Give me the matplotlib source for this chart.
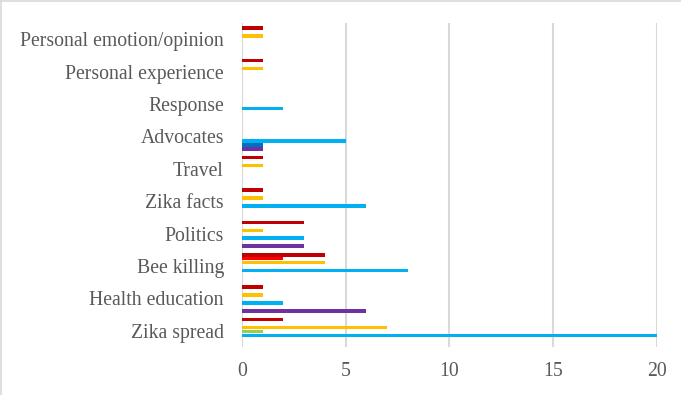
import matplotlib
matplotlib.use("Agg")
import matplotlib.pyplot as plt
import numpy as np

# categories bottom -> top (as drawn)
CATEGORIES = [
    "Zika spread", "Health education", "Bee killing", "Politics",
    "Zika facts", "Travel", "Advocates", "Response",
    "Personal experience", "Personal emotion/opinion",
]

# one list per series, same order as CATEGORIES
PURPLE = [0, 6, 0, 3, 0, 0, 1, 0, 0, 0]
BLUE = [0, 0, 0, 0, 0, 0, 1, 0, 0, 0]
LIGHT_BLUE = [20, 2, 8, 3, 6, 0, 5, 2, 0, 0]
GREEN = [1, 0, 0, 0, 0, 0, 0, 0, 0, 0]
YELLOW = [7, 1, 4, 1, 1, 1, 0, 0, 1, 1]
RED = [0, 0, 2, 0, 0, 0, 0, 0, 0, 0]
DARK_RED = [2, 1, 4, 3, 1, 1, 0, 0, 1, 1]

SERIES = [PURPLE, BLUE, LIGHT_BLUE, GREEN, YELLOW, RED, DARK_RED]
COLORS = ["#7030A0", "#0070C0", "#00B0F0", "#92D050", "#FFC000",
          "#FF0000", "#C00000"]

TEXT = "#595959"
GRID = "#D9D9D9"
FONT = "Liberation Serif"

W, H = 681, 395
fig = plt.figure(figsize=(W / 100, H / 100), dpi=100)
ax = fig.add_axes([242 / W, 1 - 347 / H, (656.7 - 242) / W, (347 - 23) / H])

y = np.arange(len(CATEGORIES))
step = 0.123
for j, (vals, col) in enumerate(zip(SERIES, COLORS)):
    off = -0.39 + j * step
    ax.barh(y + off, vals, height=0.11, color=col, linewidth=0, zorder=3)

ax.set_xlim(0, 20)
ax.set_ylim(-0.5, len(CATEGORIES) - 0.5)
ax.set_xticks([0, 5, 10, 15, 20])
ax.set_yticks(y)
ax.set_yticklabels(CATEGORIES)
ax.grid(axis="x", color=GRID, linewidth=1.5, zorder=0)
ax.tick_params(axis="both", length=0, colors=TEXT, labelsize=14.2)
ax.tick_params(axis="x", pad=11)
ax.tick_params(axis="y", pad=13)
for lab in ax.get_xticklabels() + ax.get_yticklabels():
    lab.set_fontfamily(FONT)
for s in ax.spines.values():
    s.set_visible(False)

# chart frame (top and left edges visible)
fig.add_artist(plt.Line2D([0, 1], [1 - 0.5 / H, 1 - 0.5 / H], color=GRID,
                          linewidth=1.2, transform=fig.transFigure))
fig.add_artist(plt.Line2D([0.5 / W, 0.5 / W], [0, 1], color=GRID,
                          linewidth=1.2, transform=fig.transFigure))

fig.savefig("out.png", dpi=100)
